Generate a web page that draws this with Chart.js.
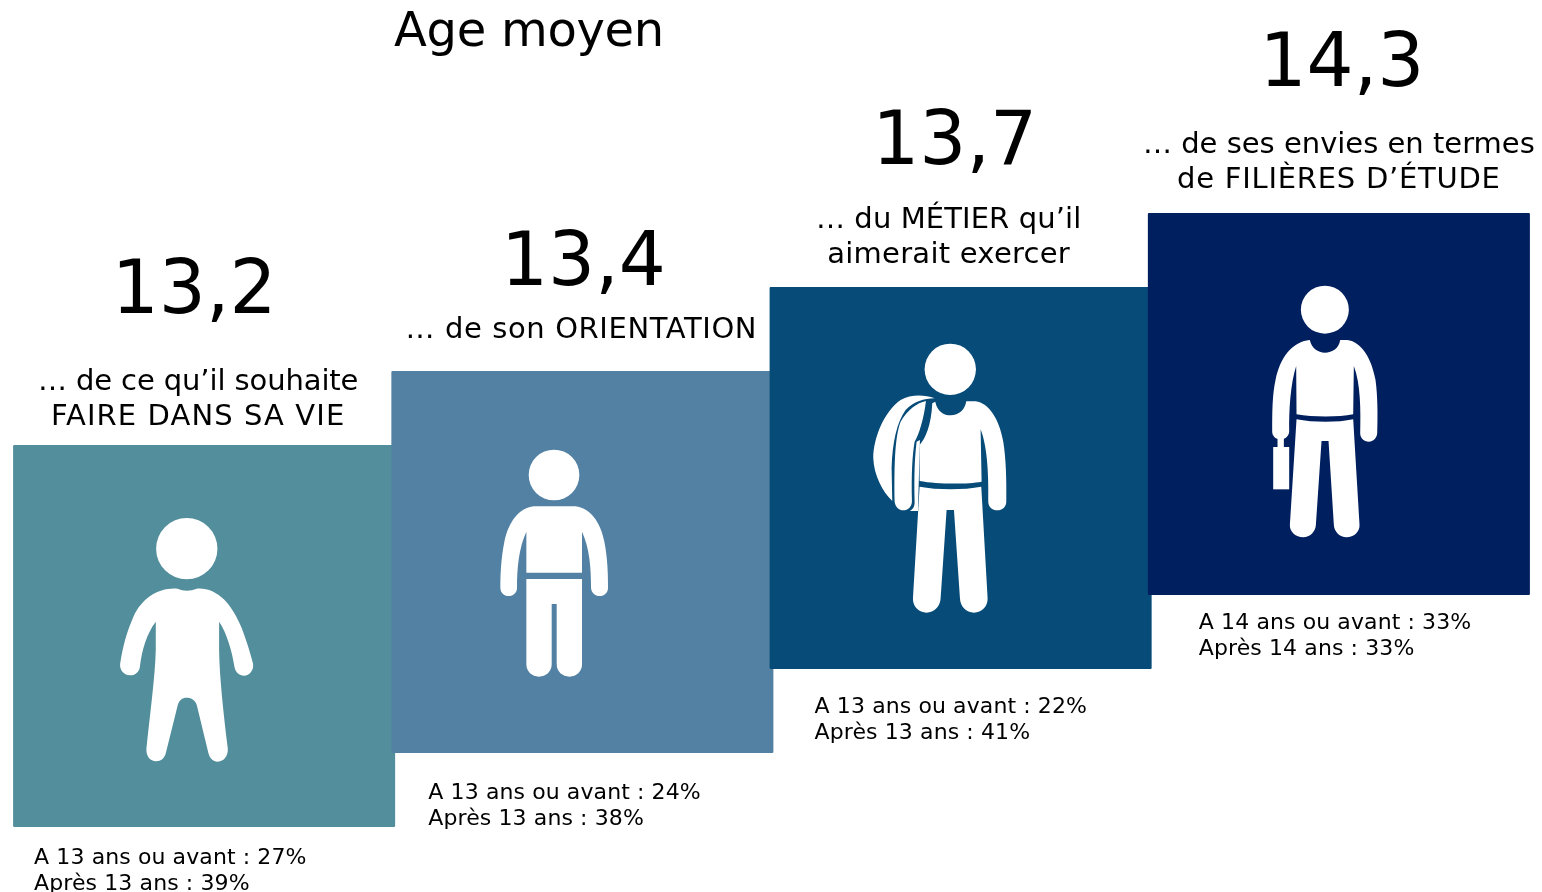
<!DOCTYPE html>
<html lang="fr">
<head>
<meta charset="utf-8">
<title>Age moyen</title>
<style>
    html, body { margin: 0; padding: 0; background: #fff; }
    canvas { display: block; }
</style>
<script src="https://cdn.jsdelivr.net/npm/chart.js@4"></script>
</head>
<body>
<canvas id="age-chart" width="1542" height="892"></canvas>
<script>
var title = "Age moyen";
var categories = ["FAIRE DANS SA VIE", "ORIENTATION", "MÉTIER", "FILIÈRES D’ÉTUDE"];
var ages = ["13,2", "13,4", "13,7", "14,3"];
var labelLines = [
    ["… de ce qu’il souhaite", "FAIRE DANS SA VIE"],
    ["… de son ORIENTATION"],
    ["… du MÉTIER qu’il", "aimerait exercer"],
    ["… de ses envies en termes", "de FILIÈRES D’ÉTUDE"]
];
var beforeLines = ["A 13 ans ou avant : 27%", "A 13 ans ou avant : 24%", "A 13 ans ou avant : 22%", "A 14 ans ou avant : 33%"];
var afterLines = ["Après 13 ans : 39%", "Après 13 ans : 38%", "Après 13 ans : 41%", "Après 14 ans : 33%"];
// the stairs are not proportional to the ages, heights read off the picture
var stepLow = [65, 139, 223, 297];
var stepHigh = [447, 521, 605, 679];
var colors = ["#528e9b", "#5281a3", "#074b78", "#001f5f"];

var FONT = '"DejaVu Sans", Verdana, sans-serif';

// text offsets from each bar
var ageOffset = [[-10, -132], [1, -86], [-6, -123], [3, -127]];
var labelOffset = [[-6, -55], [-1, -33], [-12, -59], [0, -60]];
var noteOffset = [[21, 37], [37, 46], [45, 44], [51, 34]];
// the original font runs a bit wider on capitals, so stretch those lines to the same width
var labelSpacing = [[-0.1, 1.1], [0.6], [0.1, 0.25], [0, 0.75]];

// pictograms, drawn at 3x then scaled down; offset is from the bar's top left corner
var figures = [
    {
        dx: 87, dy: 55, head: [260, 146, 92],
        white: [
            "M232 266 Q260 278 290 266 C350 262 395 310 425 385 C442 430 452 465 459 492 C461 512 448 527 432 527 C417 527 406 516 403 500 C395 450 380 400 357 365 L357 450 C358 530 370 640 383 745 C385 768 371 785 353 785 C338 785 329 775 325 760 L290 615 C286 601 274 593 260 593 C246 593 237 601 233 615 L197 760 C193 775 183 784 168 784 C150 784 137 768 139 745 C150 640 165 530 167 450 L167 365 C140 400 125 450 119 503 C115 517 105 526 90 526 C72 526 58 510 60 492 C68 440 80 395 100 350 C125 295 175 262 232 266 Z"
        ]
    },
    {
        dx: 89, dy: 64, head: [221, 120, 76],
        white: [
            "M160 214 L285 214 C330 220 360 260 372 320 C382 370 383 420 383 458 C383 473 372 483 358 483 C344 483 333 473 332 458 C332 400 328 340 305 290 L305 413 L138 413 L138 290 C115 340 110 400 110 458 C110 473 99 483 85 483 C71 483 60 473 60 458 C60 420 62 370 72 320 C85 260 115 220 160 214 Z",
            "M138 432 L305 432 L305 688 C305 710 288 725 268 725 C246 725 229 710 229 688 L229 507 L214 507 L214 688 C214 710 197 725 176 725 C155 725 138 710 138 688 Z"
        ]
    },
    {
        dx: 91, dy: 48, head: [269, 103, 77],
        white: [
            "M224 200 C230 230 250 241 270 241 C295 241 313 225 317 199 L345 199 C385 205 415 250 428 320 C436 370 438 430 437 500 C437 515 425 526 410 526 C395 526 383 515 383 500 C384 430 382 340 360 283 L363 440 C320 448 230 448 177 438 L177 330 C195 310 212 270 215 205 Z",
            "M177 455 C230 465 310 465 362 455 L381 790 C382 815 363 833 340 833 C317 833 299 815 298 790 L280 525 L258 525 L240 790 C239 815 220 833 198 833 C175 833 156 815 157 790 Z",
            "M222 190 C190 178 150 178 120 195 C70 230 38 310 38 370 C40 420 65 470 95 498 L93 400 C95 320 110 260 135 225 C160 200 190 190 222 190 Z",
            "M196 198 C170 203 140 225 120 260 C105 300 100 370 102 500 C104 515 115 526 128 526 C142 526 153 515 154 500 C152 420 155 360 162 320 C175 300 190 250 196 198 Z",
            "M168 320 L178 315 L172 528 L148 528 C160 520 162 512 162 500 C160 420 162 370 168 320 Z"
        ]
    },
    {
        dx: 112, dy: 67, head: [195, 89, 72],
        white: [
            "M150 180 C155 205 175 218 195 218 C218 218 237 205 241 180 L262 180 C305 185 335 235 347 300 C353 345 354 400 352 460 C351 474 340 485 327 485 C312 485 301 474 301 460 C303 390 302 310 282 258 L280 403 C235 412 160 412 110 403 L109 258 C92 310 87 390 88 455 C87 468 76 478 62 478 C48 478 37 468 37 455 C37 400 37 345 47 300 C60 235 95 185 150 180 Z",
            "M110 418 C160 428 235 428 280 418 L299 735 C300 755 282 772 260 772 C240 772 223 755 222 735 L206 483 L185 483 L168 735 C167 755 150 772 130 772 C108 772 89 755 90 735 Z",
            "M40 501 L88 501 L88 628 L40 628 Z",
            "M53 470 L72 470 L72 502 L53 502 Z"
        ]
    }
];

var textAndFigures = {
    id: "textAndFigures",
    afterDatasetsDraw: function (chart) {
        var ctx = chart.ctx;
        var bars = chart.getDatasetMeta(0).data;
        ctx.save();
        ctx.textBaseline = "alphabetic";
        ctx.fillStyle = "#000";

        ctx.textAlign = "center";
        ctx.font = "48px " + FONT;
        ctx.letterSpacing = "-0.3px";
        ctx.fillText(title, 529, 46);

        bars.forEach(function (bar, i) {
            var left = bar.x - bar.width / 2;
            var fig = figures[i];

            ctx.save();
            ctx.translate(left + fig.dx, bar.y + fig.dy);
            ctx.scale(1 / 3, 1 / 3);
            ctx.fillStyle = "#fff";
            ctx.beginPath();
            ctx.arc(fig.head[0], fig.head[1], fig.head[2], 0, Math.PI * 2);
            ctx.fill();
            fig.white.forEach(function (d) { ctx.fill(new Path2D(d)); });
            ctx.restore();

            ctx.textAlign = "center";
            ctx.font = "74px " + FONT;
            ctx.letterSpacing = "0px";
            ctx.fillText(ages[i], bar.x + ageOffset[i][0], bar.y + ageOffset[i][1]);

            ctx.font = "29px " + FONT;
            labelLines[i].forEach(function (line, n) {
                ctx.letterSpacing = labelSpacing[i][n] + "px";
                ctx.fillText(line, bar.x + labelOffset[i][0], bar.y + labelOffset[i][1] + n * 35);
            });

            ctx.textAlign = "left";
            ctx.font = "22px " + FONT;
            ctx.letterSpacing = "0.1px";
            ctx.fillText(beforeLines[i], left + noteOffset[i][0], bar.base + noteOffset[i][1]);
            ctx.fillText(afterLines[i], left + noteOffset[i][0], bar.base + noteOffset[i][1] + 26);
        });
        ctx.restore();
    }
};

var chart = new Chart(document.getElementById("age-chart"), {
    type: "bar",
    plugins: [textAndFigures],
    data: {
        labels: categories,
        datasets: [{
            data: stepLow.map((low, i) => [low, stepHigh[i]]),
            backgroundColor: colors,
            borderRadius: 1,
            borderSkipped: false,
            categoryPercentage: 1,
            barPercentage: 1.01,
            clip: false
        }]
    },
    options: {
        responsive: false,
        animation: false,
        layout: { padding: { left: 15, right: 14, top: 0, bottom: 0 } },
        plugins: {
            legend: { display: false },
            tooltip: { enabled: false },
            title: { display: false }
        },
        scales: {
            x: { display: false },
            y: { display: false, min: 0, max: 892 }
        }
    }
});
</script>
</body>
</html>
